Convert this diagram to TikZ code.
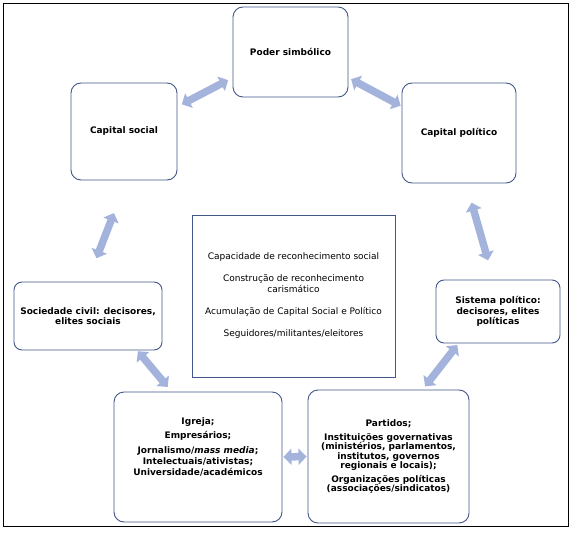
\documentclass[tikz,border=0pt]{standalone}
\usepackage{fontspec}
\setmainfont{DejaVu Sans}
\usetikzlibrary{arrows.meta}
\definecolor{boxline}{RGB}{66,86,136}
\definecolor{linkblue}{RGB}{164,179,220}
\begin{document}
\begin{tikzpicture}[x=1pt, y=-1pt,
    box/.style={draw=boxline, line width=0.9pt, fill=white, rounded corners=10pt, align=center,
      inner sep=0pt, font=\fontsize{9}{10.5}\selectfont\bfseries},
    link/.style={linkblue, line width=7.5pt,
      {Triangle[length=8pt,width=16pt]}-{Triangle[length=8pt,width=16pt]}}]
  \useasboundingbox (0,0) rectangle (577,537);
  \draw[black, line width=0.9pt] (3,3) rectangle (568,526);
  % upper ring
  \node[box, minimum width=115pt, minimum height=90pt] (ps) at (290.5,52) {Poder simbólico};
  \node[box, minimum width=106pt, minimum height=97pt] (cs) at (124,131.5) {Capital social};
  \node[box, minimum width=114pt, minimum height=100pt] (cp) at (459,133) {Capital político};
  % middle
  \node[box, rounded corners=8pt, minimum width=148pt, minimum height=68pt] (sc) at (88,316)
    {Sociedade civil: decisores,\\ elites sociais};
  \node[box, rounded corners=8pt, minimum width=124pt, minimum height=63pt] (sp) at (498,311.5)
    {Sistema político:\\ decisores, elites\\ políticas};
  \node[draw=boxline, line width=0.8pt, align=center, inner sep=0pt, minimum width=203pt,
    minimum height=162pt, font=\fontsize{9}{11}\selectfont] (cb) at (293.5,296)
    {Capacidade de reconhecimento social\\[11pt]
     Construção de reconhecimento\\ carismático\\[11pt]
     Acumulação de Capital Social e Político\\[11pt]
     Seguidores/militantes/eleitores};
  % lower pair
  \node[box, minimum width=168pt, minimum height=130pt,
    font=\fontsize{9}{11}\selectfont\bfseries] (ig) at (198,457)
    {Igreja;\\[3pt] Empresários;\\[4pt] Jornalismo/\textit{mass media};\\
     Intelectuais/ativistas;\\ Universidade/académicos\\[9pt]\mbox{}};
  \node[box, minimum width=161pt, minimum height=133pt,
    font=\fontsize{9}{9.3}\selectfont\bfseries] (pt) at (388.5,456.5)
    {Partidos;\\[5pt] Instituições governativas\\ (ministérios, parlamentos,\\
     institutos, governos\\ regionais e locais);\\[5pt] Organizações políticas\\
     (associações/sindicatos)};
  % connectors
  \draw[link, shorten <=5pt, shorten >=5pt] (cs.25) -- (ps.204);
  \draw[link, shorten <=3pt, shorten >=1pt] (ps.-24) -- (cp.155);
  \draw[link, shorten <=35pt, shorten >=25pt] (cs.-87) -- (sc.91);
  \draw[link, shorten <=20pt, shorten >=20pt] (cp.-82) -- (sp.98);
  \draw[link, shorten <=1pt, shorten >=6pt] (sc.-35) -- (ig.112);
  \draw[link, shorten <=2pt, shorten >=4pt] (sp.219) -- (pt.63);
  \draw[link, shorten <=1pt, shorten >=1pt] (ig.east) -- (pt.west);
\end{tikzpicture}
\end{document}
